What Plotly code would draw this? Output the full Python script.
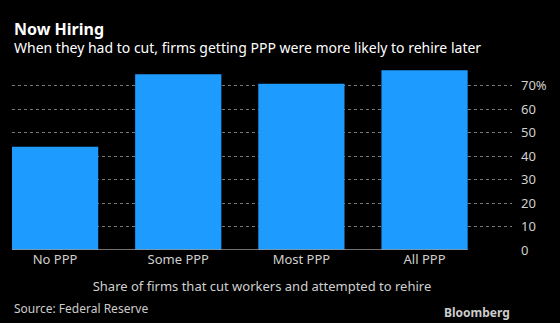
import plotly.graph_objects as go

categories = ["No PPP", "Some PPP", "Most PPP", "All PPP"]
values = [44.0, 74.9, 70.8, 76.6]
tick_vals = [0, 10, 20, 30, 40, 50, 60, 70]
tick_text = ["0", "10", "20", "30", "40", "50", "60", "70%"]

FONT = "Noto Sans"
fig = go.Figure()
fig.add_trace(go.Bar(x=list(range(len(categories))), y=values, marker_color="#1E9BFF",
                     marker_line_width=0, width=0.7))

fig.update_layout(
    width=560, height=323,
    paper_bgcolor="black", plot_bgcolor="black",
    margin=dict(l=12, r=48, t=70, b=73),
    showlegend=False,
    font=dict(family=FONT, color="#cccccc", size=13),
    xaxis=dict(
        range=[-0.35, 3.71], tickvals=list(range(len(categories))), ticktext=categories,
        showgrid=False, zeroline=False, showline=False, ticks="",
        tickfont=dict(size=13, color="#d0d0d0"),
        title=dict(text="Share of firms that cut workers and attempted to rehire",
                   font=dict(size=13, color="#d0d0d0"), standoff=14),
    ),
    yaxis=dict(
        range=[0, 76.7], side="right",
        tickvals=tick_vals, ticktext=tick_text,
        showgrid=True, gridcolor="#777777", griddash="dot", gridwidth=1,
        zeroline=False, showline=False, ticks="",
        tickfont=dict(size=13, color="#d0d0d0"), ticklabelstandoff=8,
    ),
    annotations=[
        dict(text="<b><span style='font-size:16px'>Now Hiring</span></b><br>"
                  "When they had to cut, firms getting PPP were more likely to rehire later",
             x=12, y=323 - 37, xref="paper", yref="paper", showarrow=False,
             xanchor="left", yanchor="middle", align="left",
             font=dict(family=FONT, size=14, color="white")),
        dict(text="Source: Federal Reserve", x=12, y=323 - 308, xref="paper", yref="paper",
             showarrow=False, xanchor="left", yanchor="middle",
             font=dict(family=FONT, size=12, color="#cccccc")),
        dict(text="<b>Bloomberg</b>", x=512, y=323 - 312, xref="paper", yref="paper",
             showarrow=False, xanchor="right", yanchor="middle",
             font=dict(family=FONT, size=12, color="#cccccc")),
    ],
)
# convert pixel positions of annotations into paper fractions
for a in fig.layout.annotations:
    a.x = (a.x - 12) / (560 - 12 - 48)
    a.y = (a.y - 73) / (323 - 70 - 73)

fig.add_shape(type="line", xref="x", yref="y", x0=-0.35, x1=3.35, y0=0, y1=0,
              line=dict(color="#999999", width=1.5))
fig.write_html("out.html")
